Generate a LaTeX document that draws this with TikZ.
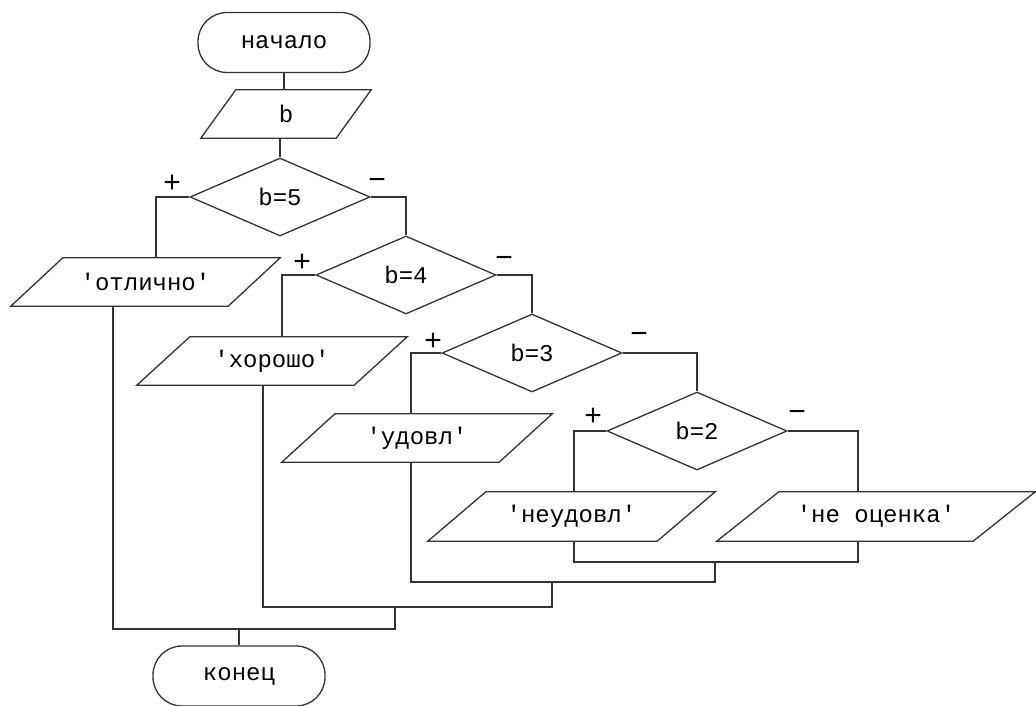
\documentclass[tikz,border=0pt]{standalone}
\usepackage{fontspec}
\setmonofont{Liberation Mono}
\usetikzlibrary{shapes.geometric,calc}
% slanted input/output box drawn around a text node
\newcommand\ioshape[2]{\draw[wire] ($(#1.north west)+(#2,0)$) -- (#1.north east) -- ($(#1.south east)-(#2,0)$) -- (#1.south west) -- cycle;}
\begin{document}
\begin{tikzpicture}[x=1pt,y=-1pt,
  wire/.style={draw=black!80, line width=1.3pt},
  lbl/.style={font=\ttfamily\fontsize{24}{26}\selectfont, text=black},
  term/.style={lbl, wire, rectangle, rounded corners=29pt, minimum width=172pt, minimum height=60pt, inner sep=0pt},
  dec/.style={lbl, wire, diamond, aspect=2.3, minimum width=180pt, minimum height=78pt, inner sep=0pt},
  io/.style={lbl, rectangle, minimum height=48pt, inner sep=0pt},
  sign/.style={font=\ttfamily\fontsize{30}{32}\selectfont, inner sep=0pt}]
\useasboundingbox (0,0) rectangle (1036,706);

% terminators
\node[term] (start) at (284,42.5) {начало};
\node[term] (stop) at (239,676) {конец};

% input
\node[io, minimum width=170pt] (inb) at (286,114) {b};
\ioshape{inb}{35}

% decisions
\node[dec] (d5) at (280,197) {b=5};
\node[dec] (d4) at (406,275) {b=4};
\node[dec] (d3) at (532,353) {b=3};
\node[dec] (d2) at (697,431) {b=2};

% outputs
\node[io, minimum width=269pt] (otl) at (145.5,282) {'отлично'};
\ioshape{otl}{52}
\node[io, minimum width=270pt] (xor) at (272,361) {'хорошо'};
\ioshape{xor}{53}
\node[io, minimum width=270pt] (udv) at (417,438) {'удовл'};
\ioshape{udv}{53}
\node[io, minimum width=287pt, minimum height=49pt] (neud) at (571.5,516.5) {'неудовл'};
\ioshape{neud}{58}
\node[io, minimum width=318pt, minimum height=49pt] (neo) at (876,516.5) {'не оценка'};
\ioshape{neo}{62}

% branch signs
\node[sign] (p5) at (172,184) {+};
\node[sign] (m5) at (377,184) {−};
\node[sign] (p4) at (302,263) {+};
\node[sign] (m4) at (504,262) {−};
\node[sign] (p3) at (433,342) {+};
\node[sign] (m3) at (639,338) {−};
\node[sign] (p2) at (593,417) {+};
\node[sign] (m2) at (797,416) {−};

% junction points of the return lines
\coordinate (j1) at (715,562);
\coordinate (j2) at (552,582);
\coordinate (j3) at (395,607);
\coordinate (j4) at (239,629);

% main flow
\draw[wire] (start.south) -- (start.south |- inb.north);
\draw[wire] (d5.north |- inb.south) -- (d5.north);
\draw[wire] (d5.west) -| ([xshift=10.5pt]otl.north);
\draw[wire] (d5.east) -| (d4.north);
\draw[wire] (d4.west) -| ([xshift=10pt]xor.north);
\draw[wire] (d4.east) -| (d3.north);
\draw[wire] (d3.west) -| ([xshift=-6pt]udv.north);
\draw[wire] (d3.east) -| (d2.north);
\draw[wire] (d2.west) -| ([xshift=2.5pt]neud.north);
\draw[wire] (d2.east) -| ([xshift=-18pt]neo.north);

% return lines
\draw[wire] ([xshift=2.5pt]neud.south) |- (j1) -| ([xshift=-18pt]neo.south);
\draw[wire] ([xshift=-6pt]udv.south) |- (j2) -| (j1);
\draw[wire] ([xshift=-9pt]xor.south) |- (j3) -| (j2);
\draw[wire] ([xshift=-32.5pt]otl.south) |- (j4) -| (j3);
\draw[wire] (j4) -- (stop.north);
\end{tikzpicture}
\end{document}
